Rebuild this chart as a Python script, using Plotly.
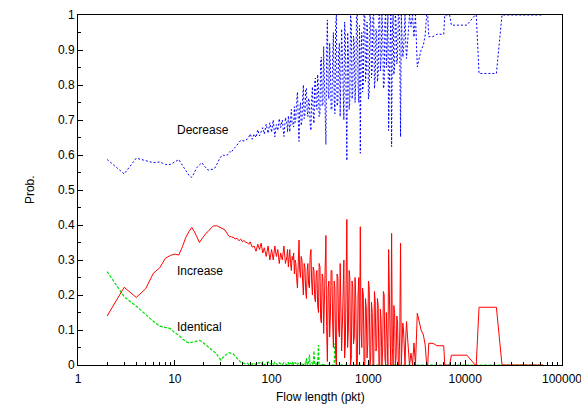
import math
import plotly.graph_objects as go

# ---------------- data ----------------
flow_len = [
    2, 3, 4, 5, 6, 7, 8, 9, 10, 11,
    12, 13, 14, 15, 16, 17, 18, 19, 20, 21,
    22, 23, 24, 25, 26, 27, 28, 29, 30, 31,
    32, 33, 34, 35, 36, 37, 38, 39, 40, 42,
    44, 46, 48, 50, 52, 54, 56, 58, 60, 63,
    66, 69, 72, 75, 78, 81, 84, 88, 92, 96,
    100, 104, 108, 112, 116, 120, 124, 129, 134, 139,
    144, 146, 149, 151, 154, 157, 160, 163, 166, 169, 172, 175, 178, 181, 185, 188, 192, 195, 199, 202,
    206, 209, 213, 217, 221, 225, 229, 233, 237, 241, 246, 250, 255, 259, 264, 269, 274, 279, 284, 289,
    294, 299, 305, 310, 316, 321, 327, 333, 339, 345, 351, 357, 364, 370, 377, 384, 391, 398, 405, 412,
    420, 427, 435, 443, 451, 459, 467, 475, 484, 493, 502, 511, 520, 529, 539, 548, 558, 568, 578, 588,
    599, 610, 621, 632, 643, 654, 666, 678, 690, 702, 715, 728, 741, 754, 768, 782, 796, 810, 825, 840,
    855, 870, 886, 902, 918, 934, 951, 968, 985, 1002, 1020, 1038, 1057, 1076, 1095, 1115, 1135, 1155, 1176, 1197,
    1218, 1240, 1262, 1285, 1308, 1331, 1355, 1379, 1404, 1429, 1455, 1481, 1507, 1534, 1562, 1590, 1618, 1647, 1676, 1706,
    1737, 1768, 1800, 1832, 1865, 1898, 1932, 1967, 2002, 2038, 2074, 2111, 2149, 2188, 2227, 2267, 2307, 2348, 2390, 2433,
    2477, 2566, 2659, 2755, 2854, 2957, 3064, 3200, 3350, 3500,
    3700, 3860, 4000, 4100, 4200, 4650, 5100, 6000, 6150, 6900,
    7200, 10400, 12700, 13000, 13900, 21000, 24000, 40000, 64000,
]

prob_decrease = [
    0.587, 0.546, 0.591, 0.584, 0.578, 0.580, 0.573, 0.573, 0.580, 0.587,
    0.570, 0.555, 0.542, 0.536, 0.550, 0.565, 0.572, 0.578, 0.570, 0.563,
    0.557, 0.557, 0.558, 0.560, 0.563, 0.570, 0.580, 0.590, 0.597, 0.600,
    0.599, 0.598, 0.600, 0.600, 0.605, 0.610, 0.607, 0.610, 0.615, 0.622,
    0.630, 0.638, 0.642, 0.641, 0.640, 0.643, 0.645, 0.650, 0.660, 0.645,
    0.660, 0.650, 0.672, 0.655, 0.665, 0.678, 0.660, 0.688, 0.662, 0.692,
    0.665, 0.700, 0.652, 0.687, 0.670, 0.704, 0.678, 0.700, 0.653, 0.707,
    0.690, 0.666, 0.712, 0.700, 0.666, 0.704, 0.730, 0.687, 0.690, 0.680, 0.738, 0.693, 0.704, 0.750, 0.780, 0.715, 0.639, 0.730, 0.750, 0.684,
    0.697, 0.760, 0.800, 0.704, 0.715, 0.790, 0.790, 0.726, 0.710, 0.762, 0.750, 0.690, 0.670, 0.754, 0.795, 0.720, 0.690, 0.810, 0.820, 0.736,
    0.730, 0.830, 0.793, 0.710, 0.720, 0.870, 0.880, 0.740, 0.745, 0.910, 0.840, 0.700, 0.630, 0.890, 0.986, 0.780, 0.760, 0.920, 0.860, 0.730,
    0.730, 0.880, 0.950, 0.760, 0.718, 0.970, 1.000, 0.740, 0.750, 0.900, 0.920, 0.710, 0.800, 0.960, 0.880, 0.730, 0.700, 0.980, 0.940, 0.770,
    0.584, 0.950, 0.900, 0.730, 0.750, 1.000, 0.980, 0.760, 0.780, 0.940, 0.920, 0.750, 0.810, 1.000, 1.000, 0.800, 0.750, 0.970, 0.605, 0.900,
    0.950, 0.780, 0.800, 1.000, 1.000, 0.810, 0.840, 0.980, 0.940, 0.760, 0.780, 1.000, 0.980, 0.820, 0.850, 1.000, 1.000, 0.790, 0.820, 0.960,
    0.950, 0.810, 0.830, 1.000, 1.000, 0.840, 0.880, 1.000, 0.960, 0.790, 0.800, 0.980, 1.000, 0.850, 0.950, 1.000, 0.670, 0.900, 0.920, 1.000,
    0.624, 0.950, 1.000, 0.830, 0.850, 1.000, 0.980, 0.860, 0.880, 1.000, 1.000, 0.900, 0.652, 1.000, 0.950, 0.880, 0.900, 1.000, 1.000, 0.920,
    0.876, 0.940, 1.000, 0.966, 1.000, 0.937, 1.000, 0.852, 0.880, 0.900,
    0.914, 0.943, 1.000, 1.000, 0.938, 0.938, 0.945, 0.945, 1.000, 1.000,
    0.971, 0.971, 1.000, 1.000, 0.833, 0.833, 1.000, 1.000, 1.000,
]

prob_increase = [
    0.140, 0.222, 0.193, 0.218, 0.262, 0.278, 0.305, 0.313, 0.317, 0.314,
    0.338, 0.365, 0.381, 0.393, 0.380, 0.365, 0.350, 0.360, 0.370, 0.376,
    0.381, 0.388, 0.393, 0.397, 0.398, 0.398, 0.396, 0.394, 0.392, 0.390,
    0.388, 0.386, 0.380, 0.372, 0.369, 0.366, 0.368, 0.364, 0.366, 0.360,
    0.362, 0.355, 0.360, 0.352, 0.356, 0.350, 0.350, 0.345, 0.352, 0.337,
    0.340, 0.325, 0.345, 0.330, 0.348, 0.320, 0.335, 0.310, 0.340, 0.300,
    0.330, 0.300, 0.340, 0.310, 0.330, 0.290, 0.320, 0.300, 0.340, 0.290,
    0.310, 0.330, 0.280, 0.300, 0.330, 0.290, 0.270, 0.310, 0.300, 0.320, 0.260, 0.300, 0.290, 0.250, 0.220, 0.280, 0.357, 0.270, 0.250, 0.310,
    0.300, 0.240, 0.200, 0.290, 0.280, 0.210, 0.190, 0.270, 0.290, 0.230, 0.220, 0.310, 0.330, 0.240, 0.200, 0.280, 0.270, 0.190, 0.180, 0.260,
    0.270, 0.170, 0.150, 0.290, 0.280, 0.130, 0.120, 0.260, 0.250, 0.090, 0.160, 0.300, 0.370, 0.110, 0.010, 0.220, 0.240, 0.080, 0.140, 0.270,
    0.270, 0.120, 0.050, 0.240, 0.220, 0.030, 0.000, 0.260, 0.250, 0.100, 0.080, 0.290, 0.200, 0.040, 0.120, 0.270, 0.300, 0.020, 0.060, 0.230,
    0.416, 0.050, 0.100, 0.270, 0.250, 0.000, 0.020, 0.240, 0.220, 0.060, 0.080, 0.250, 0.190, 0.000, 0.000, 0.200, 0.250, 0.030, 0.395, 0.100,
    0.050, 0.220, 0.200, 0.000, 0.000, 0.190, 0.160, 0.020, 0.060, 0.240, 0.220, 0.000, 0.020, 0.180, 0.150, 0.000, 0.000, 0.210, 0.180, 0.040,
    0.050, 0.190, 0.170, 0.000, 0.000, 0.160, 0.120, 0.000, 0.040, 0.210, 0.200, 0.020, 0.000, 0.150, 0.050, 0.000, 0.330, 0.100, 0.080, 0.000,
    0.376, 0.050, 0.000, 0.170, 0.150, 0.000, 0.020, 0.140, 0.120, 0.000, 0.000, 0.100, 0.348, 0.000, 0.050, 0.120, 0.100, 0.000, 0.000, 0.080,
    0.124, 0.060, 0.000, 0.034, 0.000, 0.063, 0.000, 0.148, 0.120, 0.100,
    0.086, 0.057, 0.000, 0.000, 0.062, 0.062, 0.055, 0.055, 0.000, 0.000,
    0.028, 0.028, 0.000, 0.000, 0.165, 0.165, 0.000, 0.000, 0.000,
]

prob_identical = [
    0.267, 0.195, 0.168, 0.143, 0.125, 0.111, 0.108, 0.104, 0.092, 0.085,
    0.075, 0.067, 0.063, 0.065, 0.066, 0.068, 0.070, 0.067, 0.063, 0.057,
    0.052, 0.048, 0.045, 0.040, 0.038, 0.032, 0.025, 0.018, 0.014, 0.020,
    0.024, 0.025, 0.030, 0.033, 0.035, 0.034, 0.035, 0.033, 0.032, 0.025,
    0.018, 0.012, 0.008, 0.006, 0.004, 0.003, 0.005, 0.002, 0.004, 0.002,
    0.006, 0.000, 0.004, 0.007, 0.002, 0.008, 0.000, 0.005, 0.009, 0.003,
    0.005, 0.000, 0.008, 0.003, 0.000, 0.006, 0.002, 0.000, 0.007, 0.003,
    0.000, 0.004, 0.008, 0.000, 0.004, 0.006, 0.000, 0.003, 0.010, 0.000, 0.002, 0.007, 0.006, 0.000, 0.000, 0.005, 0.004, 0.000, 0.000, 0.006,
    0.003, 0.000, 0.000, 0.006, 0.005, 0.000, 0.020, 0.004, 0.000, 0.008, 0.030, 0.000, 0.000, 0.006, 0.005, 0.000, 0.040, 0.000, 0.000, 0.004,
    0.000, 0.000, 0.057, 0.000, 0.000, 0.000, 0.000, 0.000, 0.005, 0.000, 0.000, 0.000, 0.000, 0.000, 0.000, 0.000, 0.000, 0.000, 0.000, 0.000,
    0.000, 0.000, 0.000, 0.000, 0.062, 0.000, 0.000, 0.000, 0.000, 0.000, 0.000, 0.000, 0.000, 0.000, 0.000, 0.000, 0.000, 0.000, 0.000, 0.000,
    0.000, 0.000, 0.000, 0.000, 0.000, 0.000, 0.000, 0.000, 0.000, 0.000, 0.000, 0.000, 0.000, 0.000, 0.000, 0.000, 0.000, 0.000, 0.000, 0.000,
    0.000, 0.000, 0.000, 0.000, 0.000, 0.000, 0.000, 0.000, 0.000, 0.000, 0.000, 0.000, 0.000, 0.000, 0.000, 0.000, 0.000, 0.000, 0.000, 0.000,
    0.000, 0.000, 0.000, 0.000, 0.000, 0.000, 0.000, 0.000, 0.000, 0.000, 0.000, 0.000, 0.000, 0.000, 0.000, 0.000, 0.000, 0.000, 0.000, 0.000,
    0.000, 0.000, 0.000, 0.000, 0.000, 0.000, 0.000, 0.000, 0.000, 0.000, 0.000, 0.000, 0.000, 0.000, 0.000, 0.000, 0.000, 0.000, 0.000, 0.000,
    0.000, 0.000, 0.000, 0.000, 0.000, 0.000, 0.000, 0.000, 0.000, 0.000,
    0.000, 0.000, 0.000, 0.000, 0.000, 0.000, 0.000, 0.000, 0.000, 0.000,
    0.000, 0.000, 0.000, 0.000, 0.000, 0.000, 0.000, 0.000, 0.000,
]

x_tick_vals = [1, 10, 100, 1000, 10000, 100000]
x_tick_text = ["1", "10", "100", "1000", "10000", "100000"]
y_tick_vals = [0, 0.1, 0.2, 0.3, 0.4, 0.5, 0.6, 0.7, 0.8, 0.9, 1]
y_tick_text = ["0", "0.1", "0.2", "0.3", "0.4", "0.5", "0.6", "0.7", "0.8", "0.9", "1"]

series_labels = ["Decrease", "Increase", "Identical"]
label_x = [10.0, 10.0, 10.0]
label_y = [0.672, 0.269, 0.109]

# ---------------- figure ----------------
FONT = "Liberation Sans, Arial, Helvetica, sans-serif"

fig = go.Figure()
fig.add_trace(go.Scatter(x=flow_len, y=prob_decrease, mode="lines", name="Decrease",
                         line=dict(color="#0000ff", width=1, dash="2px,2px")))
fig.add_trace(go.Scatter(x=flow_len, y=prob_identical, mode="lines", name="Identical",
                         line=dict(color="#00dd00", width=1.2, dash="3px,1.5px")))
fig.add_trace(go.Scatter(x=flow_len, y=prob_increase, mode="lines", name="Increase",
                         line=dict(color="#ff0000", width=1)))

for txt, lx, ly in zip(series_labels, label_x, label_y):
    fig.add_annotation(x=math.log10(lx), y=ly, xref="x", yref="y", text=txt,
                       showarrow=False, xanchor="left", yanchor="middle",
                       font=dict(family=FONT, size=12, color="black"))

fig.add_annotation(x=-0.099, y=0.5, xref="paper", yref="paper", text="Prob.",
                   showarrow=False, textangle=-90, xanchor="center", yanchor="middle",
                   font=dict(family=FONT, size=12, color="black"))
fig.add_annotation(x=0.5, y=-0.091, xref="paper", yref="paper", text="Flow length (pkt)",
                   showarrow=False, xanchor="center", yanchor="middle",
                   font=dict(family=FONT, size=12, color="black"))

fig.update_layout(
    width=581, height=407,
    margin=dict(l=78, r=19, t=15, b=42, autoexpand=False),
    paper_bgcolor="white", plot_bgcolor="white",
    showlegend=False,
    font=dict(family=FONT, size=12, color="black"),
    xaxis=dict(type="log", range=[0, 5], tickvals=x_tick_vals, ticktext=x_tick_text,
               ticks="inside", ticklen=5, tickcolor="black", tickwidth=1,
               ticklabelstandoff=3, ticklabeloverflow="allow", automargin=False,
               showgrid=False, zeroline=False, showline=True, linecolor="black",
               linewidth=1, mirror=True,
               minor=dict(ticks="inside", ticklen=3, tickcolor="black", dtick="D1",
                          showgrid=False)),
    yaxis=dict(range=[0, 1], tickvals=y_tick_vals, ticktext=y_tick_text,
               ticks="inside", ticklen=5, tickcolor="black", tickwidth=1,
               ticklabeloverflow="allow", automargin=False,
               showgrid=False, zeroline=False, showline=True, linecolor="black",
               linewidth=1, mirror=True,
               minor=dict(ticks="inside", ticklen=3, tickcolor="black", dtick=0.05,
                          showgrid=False)),
)

fig.write_html("out.html", config={"displayModeBar": False},
               post_script="document.body.style.margin='0';document.body.style.overflow='hidden';")
